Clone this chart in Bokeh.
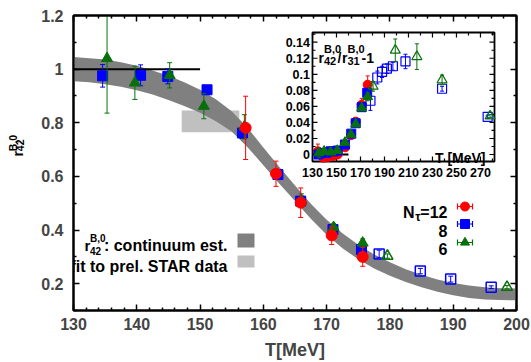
import math
from bokeh.plotting import figure
from bokeh.layouts import row
from bokeh.models import Range1d, FixedTicker, LinearAxis
from bokeh.core.properties import value
from bokeh.embed import file_html
from bokeh.resources import INLINE

# ---------------- data: main panel ----------------
x_ticks = [130, 140, 150, 160, 170, 180, 190, 200]
x_tick_labels = ["130", "140", "150", "160", "170", "180", "190", "200"]
x_minor = [132, 134, 136, 138, 142, 144, 146, 148, 152, 154, 156, 158, 162, 164, 166, 168,
           172, 174, 176, 178, 182, 184, 186, 188, 192, 194, 196, 198]
y_ticks = [0.2, 0.4, 0.6, 0.8, 1.0, 1.2]
y_tick_labels = ["0.2", "0.4", "0.6", "0.8", "1", "1.2"]
y_minor = [0.1, 0.3, 0.5, 0.7, 0.9, 1.1]

# continuum band (lower / upper edge)
T_band = [130, 132.5, 135, 137.5, 140, 142.5, 145, 147.5, 150, 152.5, 155, 157.5, 160, 162.5,
          165, 167.5, 170, 172.5, 175, 177.5, 180, 182.5, 185, 187.5, 190, 192.5, 195, 197.5, 200]
band_lo = [0.955, 0.951, 0.944, 0.934, 0.921, 0.905, 0.885, 0.863, 0.837, 0.806, 0.767, 0.709,
           0.642, 0.574, 0.508, 0.442, 0.382, 0.332, 0.291, 0.257, 0.230, 0.206, 0.187, 0.170,
           0.157, 0.147, 0.141, 0.139, 0.138]
band_hi = [1.045, 1.041, 1.036, 1.026, 1.013, 0.995, 0.975, 0.951, 0.923, 0.888, 0.843, 0.781,
           0.708, 0.636, 0.566, 0.498, 0.438, 0.388, 0.345, 0.309, 0.280, 0.254, 0.233, 0.216,
           0.203, 0.193, 0.187, 0.183, 0.182]

# STAR fit box
star_T = [147.1, 156.2]
star_r = [0.765, 0.846]
# reference line r=1
ref_T = [130, 150]
ref_r = [1.0, 1.0]

# N_tau = 12
T12 = [157.2, 162.0, 165.9, 170.8, 175.7]
r12 = [0.781, 0.610, 0.502, 0.380, 0.300]
e12 = [0.118, 0.047, 0.055, 0.034, 0.035]
# N_tau = 8 (filled)
T8 = [134.6, 140.6, 144.9, 151.1, 156.7, 162.3, 165.9, 171.0, 175.5]
r8 = [0.975, 0.977, 0.973, 0.923, 0.762, 0.607, 0.508, 0.402, 0.327]
e8 = [0.042, 0.039, 0.028, 0.016, 0.020, 0.015, 0.016, 0.015, 0.016]
# N_tau = 8 (open)
T8o = [178.3, 184.8, 189.6, 196.0]
r8o = [0.311, 0.247, 0.217, 0.187]
e8o = [0.014, 0.010, 0.011, 0.005]
# N_tau = 6 (filled)
T6 = [135.3, 139.7, 145.2, 150.6, 157.0, 166.0, 171.1, 175.7]
r6 = [1.040, 0.949, 0.977, 0.862, 0.785, 0.510, 0.410, 0.352]
e6 = [0.204, 0.062, 0.047, 0.047, 0.045, 0.025, 0.015, 0.015]
# N_tau = 6 (open)
T6o = [179.6, 198.5]
r6o = [0.303, 0.187]
e6o = [0.008, 0.006]

# ---------------- data: inset ----------------
ix_ticks = [130, 150, 170, 190, 210, 230, 250, 270]
ix_tick_labels = ["130", "150", "170", "190", "210", "230", "250", "270"]
ix_minor = [140, 160, 180, 200, 220, 240, 260, 280]
iy_ticks = [0.0, 0.02, 0.04, 0.06, 0.08, 0.10, 0.12, 0.14]
iy_tick_labels = ["0", "0.02", "0.04", "0.06", "0.08", "0.1", "0.12", "0.14"]
iy_minor = [0.01, 0.03, 0.05, 0.07, 0.09, 0.11, 0.13, 0.15]

iref_T = [130, 160]
iref_r = [0.0, 0.0]

iT12 = [134.5, 139.0, 143.0, 147.0, 151.0, 157.2, 162.0, 166.0, 171.0, 176.0]
ir12 = [0.004, -0.004, -0.003, -0.002, 0.000, 0.009, 0.024, 0.041, 0.062, 0.087]
ie12 = [0.009, 0.004, 0.004, 0.003, 0.003, 0.003, 0.003, 0.005, 0.008, 0.011]

iT8 = [135.0, 138.0, 141.0, 145.0, 148.0, 151.0, 157.0, 162.3, 166.0, 171.0, 175.6]
ir8 = [0.000, 0.002, 0.002, 0.004, 0.004, 0.005, 0.0125, 0.026, 0.039, 0.059, 0.077]
ie8 = [0.003, 0.003, 0.003, 0.003, 0.003, 0.003, 0.003, 0.003, 0.003, 0.003, 0.005]

iT6 = [135.3, 139.7, 145.2, 150.6, 157.0, 162.0, 166.0, 171.0, 176.0]
ir6 = [0.002, 0.004, 0.003, 0.005, 0.015, 0.025, 0.038, 0.058, 0.072]
ie6 = [0.006, 0.003, 0.003, 0.003, 0.002, 0.002, 0.003, 0.003, 0.005]

iT8o = [178.3, 184.0, 188.0, 192.0, 197.0, 207.5, 238.0, 276.0]
ir8o = [0.067, 0.096, 0.103, 0.107, 0.110, 0.116, 0.082, 0.047]
ie8o = [0.012, 0.008, 0.007, 0.006, 0.005, 0.009, 0.003, 0.002]

iT6o = [180.5, 199.0, 217.0, 238.0, 278.0]
ir6o = [0.085, 0.130, 0.122, 0.093, 0.048]
ie6o = [0.006, 0.014, 0.016, 0.006, 0.002]

# ---------------- styling / layout ----------------
RED, BLUE, GREEN = "#ff0000", "#0000ff", "#08700a"
DARK, LIGHT = "#808080", "#c0c0c0"
FONT = "Liberation Sans"

W, H = 531, 362
LW = 30                      # width of the strip holding the y-axis title
FL, FR, FT, FB = 73, 516, 15, 310   # frame, in page pixels
X0, X1, Y0, Y1 = 130, 200, 0.1, 1.2


def px2x(px):
    return X0 + (px - FL) / (FR - FL) * (X1 - X0)


def py2y(py):
    return Y1 - (py - FT) / (FB - FT) * (Y1 - Y0)


p = figure(width=W - LW, height=H, x_range=Range1d(start=X0, end=X1), y_range=Range1d(start=Y0, end=Y1),
           output_backend="svg", toolbar_location=None,
           min_border_left=FL - LW, min_border_right=W - FR, min_border_top=FT, min_border_bottom=H - FB)
p.xgrid.visible = False
p.ygrid.visible = False
p.outline_line_color = "black"
p.outline_line_width = 2
p.background_fill_color = "white"
p.border_fill_color = "white"

p.add_layout(LinearAxis(), "above")
p.add_layout(LinearAxis(), "right")


def style_axis(ax, ticks, minor, overrides, labels, standoff):
    ax.ticker = FixedTicker(ticks=ticks, minor_ticks=minor)
    ax.axis_line_width = 2
    ax.major_tick_in = 6
    ax.major_tick_out = 0
    ax.minor_tick_in = 3
    ax.minor_tick_out = 0
    ax.major_tick_line_width = 1.5
    ax.minor_tick_line_width = 1.5
    ax.major_label_text_font = FONT
    ax.major_label_text_font_style = "bold"
    ax.major_label_text_font_size = "16px"
    ax.major_label_overrides = overrides
    ax.major_label_standoff = standoff
    if not labels:
        ax.major_label_text_font_size = "0px"
        ax.major_label_text_color = None
        ax.major_label_standoff = 0


xo = {t: s for t, s in zip(x_ticks, x_tick_labels)}
yo = {t: s for t, s in zip(y_ticks, y_tick_labels)}
for ax in p.below:
    style_axis(ax, x_ticks, x_minor, xo, True, 7)
    ax.axis_label = "T[MeV]"
    ax.axis_label_text_font = FONT
    ax.axis_label_text_font_style = "bold"
    ax.axis_label_text_font_size = "18px"
    ax.axis_label_standoff = 7
for ax in p.above:
    style_axis(ax, x_ticks, x_minor, xo, False, 0)
for ax in p.left:
    style_axis(ax, y_ticks, y_minor, yo, True, 10)
for ax in p.right:
    style_axis(ax, y_ticks, y_minor, yo, False, 0)


def txt(g, x, y, s, size, align="left", baseline="alphabetic", angle=0.0):
    g.text(x=[x], y=[y], text=[s], text_font=value(FONT), text_font_size=size,
           text_font_style="bold", text_align=align, text_baseline=baseline,
           text_color="black", angle=angle)


def errbars(g, xs, ys, es, color, cap=5, lw=1.0):
    lo = [y - e for y, e in zip(ys, es)]
    hi = [y + e for y, e in zip(ys, es)]
    g.segment(x0=xs, y0=lo, x1=xs, y1=hi, line_color=color, line_width=lw)
    g.scatter(x=list(xs) + list(xs), y=lo + hi, marker="dash", size=cap, line_color=color, line_width=lw)


# ---------------- main panel ----------------
p.quad(left=[star_T[0]], right=[star_T[1]], bottom=[star_r[0]], top=[star_r[1]],
       fill_color=LIGHT, line_color=None)
p.varea(x=T_band, y1=band_lo, y2=band_hi, fill_color=DARK)
p.line(x=ref_T, y=ref_r, line_color="black", line_width=2)

errbars(p, T8, r8, e8, BLUE)
p.scatter(x=T8, y=r8, marker="square", size=10, fill_color=BLUE, line_color=BLUE)
errbars(p, T8o, r8o, e8o, BLUE)
p.scatter(x=T8o, y=r8o, marker="square", size=10, fill_color=None, line_color=BLUE, line_width=1.5)
errbars(p, T6, r6, e6, GREEN)
p.scatter(x=T6, y=r6, marker="triangle", size=11, fill_color=GREEN, line_color=GREEN)
errbars(p, T6o, r6o, e6o, GREEN)
p.scatter(x=T6o, y=r6o, marker="triangle", size=11, fill_color=None, line_color=GREEN, line_width=1.5)
errbars(p, T12, r12, e12, RED)
p.scatter(x=T12, y=r12, marker="circle", size=11, fill_color=RED, line_color=RED)

# legend: shaded boxes
txt(p, px2x(84), py2y(245), "r", "15px")
txt(p, px2x(89.5), py2y(237.5), "B,0", "10px")
txt(p, px2x(89.5), py2y(250), "42", "10px")
txt(p, px2x(227), py2y(245), ": continuum est.", "16px", align="right")
p.quad(left=[px2x(237)], right=[px2x(254)], bottom=[py2y(247)], top=[py2y(233)],
       fill_color=DARK, line_color=None)
txt(p, px2x(227), py2y(266), "fit to prel. STAR data", "16px", align="right")
p.quad(left=[px2x(237)], right=[px2x(254)], bottom=[py2y(267)], top=[py2y(255)],
       fill_color=LIGHT, line_color=None)

# legend: N_tau
txt(p, px2x(447), py2y(212), "=12", "16px", align="right")
txt(p, px2x(420), py2y(216), "\u03c4", "12px", align="right")
txt(p, px2x(414), py2y(212), "N", "16px", align="right")
txt(p, px2x(447), py2y(230), "8", "16px", align="right")
txt(p, px2x(447), py2y(248), "6", "16px", align="right")
for py, color, marker in [(206, RED, "circle"), (223.5, BLUE, "square"), (242, GREEN, "triangle")]:
    y = py2y(py)
    p.segment(x0=[px2x(457)], y0=[y], x1=[px2x(472)], y1=[y], line_color=color, line_width=1.2)
    p.scatter(x=[px2x(457), px2x(472)], y=[y, y], marker="dash", angle=math.pi / 2, size=6,
              line_color=color, line_width=1.2)
    p.scatter(x=[px2x(464.5)], y=[y], marker=marker, size=9, fill_color=color, line_color=color)

# ---------------- inset ----------------
IL, IR, IT, IB = 312, 494, 32, 161
IX0, IX1, IY0, IY1 = 130, 281.7, -0.0087, 0.1521
sx = (IR - IL) / (IX1 - IX0)
sy = (IB - IT) / (IY1 - IY0)

sub = p.subplot(
    x_source=Range1d(start=IX0, end=IX1), y_source=Range1d(start=IY0, end=IY1),
    x_target=Range1d(start=px2x(IL), end=px2x(IR)), y_target=Range1d(start=py2y(IB), end=py2y(IT)),
)

sub.quad(left=[IX0], right=[IX1], bottom=[IY0], top=[IY1], fill_color="white",
         line_color="black", line_width=1.8)

dxM, dxm = 5 / sx, 3 / sx
dyM, dym = 5 / sy, 3 / sy
for ticks, dy in [(ix_ticks, dyM), (ix_minor, dym)]:
    sub.segment(x0=ticks, y0=[IY0] * len(ticks), x1=ticks, y1=[IY0 + dy] * len(ticks),
                line_color="black", line_width=1.2)
    sub.segment(x0=ticks, y0=[IY1] * len(ticks), x1=ticks, y1=[IY1 - dy] * len(ticks),
                line_color="black", line_width=1.2)
for ticks, dx in [(iy_ticks, dxM), (iy_minor, dxm)]:
    sub.segment(x0=[IX0] * len(ticks), y0=ticks, x1=[IX0 + dx] * len(ticks), y1=ticks,
                line_color="black", line_width=1.2)
    sub.segment(x0=[IX1] * len(ticks), y0=ticks, x1=[IX1 - dx] * len(ticks), y1=ticks,
                line_color="black", line_width=1.2)

sub.text(x=ix_ticks, y=[IY0 - 6 / sy] * len(ix_ticks), text=ix_tick_labels,
         text_font=value(FONT), text_font_size="12.5px", text_font_style="bold",
         text_align="center", text_baseline="top", text_color="black")
sub.text(x=[IX0 - 2.5 / sx] * len(iy_ticks), y=iy_ticks, text=iy_tick_labels,
         text_font=value(FONT), text_font_size="12.5px", text_font_style="bold",
         text_align="right", text_baseline="middle", text_color="black")

sub.line(x=iref_T, y=iref_r, line_color="black", line_width=2)

errbars(sub, iT12, ir12, ie12, RED, cap=4)
sub.scatter(x=iT12, y=ir12, marker="circle", size=9, fill_color=RED, line_color=RED)
errbars(sub, iT8, ir8, ie8, BLUE, cap=4)
sub.scatter(x=iT8, y=ir8, marker="square", size=9, fill_color=BLUE, line_color=BLUE)
errbars(sub, iT8o, ir8o, ie8o, BLUE, cap=4)
sub.scatter(x=iT8o, y=ir8o, marker="square", size=9, fill_color=None, line_color=BLUE, line_width=1.2)
errbars(sub, iT6, ir6, ie6, GREEN, cap=4)
sub.scatter(x=iT6, y=ir6, marker="triangle", size=10, fill_color=GREEN, line_color=GREEN)
errbars(sub, iT6o, ir6o, ie6o, GREEN, cap=4)
sub.scatter(x=iT6o, y=ir6o, marker="triangle", size=10, fill_color=None, line_color=GREEN, line_width=1.2)

# inset labels
txt(p, px2x(485), py2y(157), "T [MeV]", "14px", align="right")
txt(p, px2x(318), py2y(57), "r", "14px")
txt(p, px2x(323.5), py2y(48), "B,0", "11px")
txt(p, px2x(323.5), py2y(60), "42", "11px")
txt(p, px2x(337), py2y(57), "/", "14px")
txt(p, px2x(341.5), py2y(57), "r", "14px")
txt(p, px2x(347), py2y(48), "B,0", "11px")
txt(p, px2x(347), py2y(60), "31", "11px")
txt(p, px2x(361), py2y(57), "-1", "14px")

# ---------------- y-axis title strip (page pixels) ----------------
lf = figure(width=LW, height=H, x_range=Range1d(start=0, end=LW), y_range=Range1d(start=H, end=0),
            output_backend="svg", toolbar_location=None, x_axis_location=None, y_axis_location=None,
            min_border=0)
lf.xgrid.visible = False
lf.ygrid.visible = False
lf.outline_line_color = None
lf.background_fill_color = "white"
lf.border_fill_color = "white"
txt(lf, 17, 173, "r", "14px", angle=math.pi / 2)
txt(lf, 12.5, 166.5, "B,0", "10.5px", angle=math.pi / 2)
txt(lf, 19.5, 166.5, "42", "10.5px", angle=math.pi / 2)

open("out.html", "w").write(file_html(row(lf, p), INLINE))
